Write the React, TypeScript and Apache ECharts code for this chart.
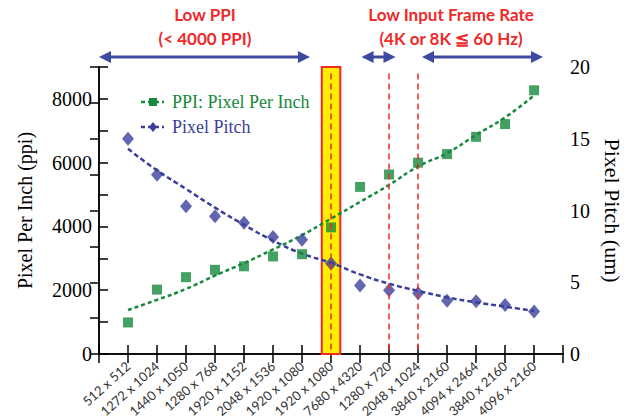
import React, { useEffect, useRef } from 'react';
import * as echarts from 'echarts';

const categories = ['512 x 512', '1272 x 1024', '1440 x 1050', '1280 x 768', '1920 x 1152', '2048 x 1536', '1920 x 1080', '1920 x 1080', '7680 x 4320', '1280 x 720', '2048 x 1024', '3840 x 2160', '4094 x 2464', '3840 x 2160', '4096 x 2160'];
const ppiValues = [990, 2020, 2410, 2640, 2750, 3060, 3130, 3970, 5240, 5630, 6000, 6270, 6810, 7210, 8270];
const pitchValues = [15.0, 12.5, 10.3, 9.6, 9.15, 8.15, 7.97, 6.3, 4.77, 4.45, 4.23, 3.71, 3.67, 3.42, 2.97];
const ppiTrend = [1380, 1700, 2040, 2460, 2850, 3280, 3730, 4245, 4770, 5300, 5880, 6300, 6870, 7420, 8110];
const pitchTrend = [14.3, 12.8, 11.5, 10.2, 9.0, 7.9, 7.0, 6.35, 5.55, 4.9, 4.4, 3.95, 3.6, 3.3, 3.0];
const highlightRange = [7.68, 8.32];
const redLines = [8, 10, 11];
const redLineTop = 8800;
const arrowSpans = [[0, 7.15], [8.9, 10.05], [10.95, 15.05]];

const GREEN = '#16893c';
const BLUE = '#3b3f9c';
const RED = '#ee2a2a';
const ARROW = '#3d4a9f';

const GRID = { left: 99, right: 60, top: 67, bottom: 57 };
const W = 631, H = 420;
const X_MAX = 16;
const xPx = (v: number) => GRID.left + (v * (W - GRID.left - GRID.right)) / X_MAX;

function arrow(x1: number, x2: number, y: number) {
  const hl = 12, hw = 6;
  return [
    { type: 'line', shape: { x1: x1 + hl - 2, y1: y, x2: x2 - hl + 2, y2: y }, style: { stroke: ARROW, lineWidth: 3 } },
    { type: 'polygon', shape: { points: [[x1, y], [x1 + hl, y - hw], [x1 + hl, y + hw]] }, style: { fill: ARROW } },
    { type: 'polygon', shape: { points: [[x2, y], [x2 - hl, y - hw], [x2 - hl, y + hw]] }, style: { fill: ARROW } },
  ];
}

export default function App() {
  const ref = useRef<HTMLDivElement>(null);
  useEffect(() => {
    if (!ref.current) return;
    const chart = echarts.init(ref.current, undefined, { renderer: 'svg' });
    const serif = 'Liberation Serif';
    const axisLineStyle = { color: '#000', width: 1.5 };
    const graphic: any[] = [];
    arrowSpans.forEach(([a, b]) => graphic.push(...arrow(xPx(a), xPx(b), 57)));
    const annoStyle = { fill: RED, fontFamily: 'Lato', fontWeight: 'bold', fontSize: 17, align: 'center', verticalAlign: 'middle' };
    graphic.push(
      { type: 'text', x: 205, y: 14, style: { ...annoStyle, text: 'Low PPI' } },
      { type: 'text', x: 205, y: 38, style: { ...annoStyle, text: '(< 4000 PPI)' } },
      { type: 'text', x: 451, y: 14, style: { ...annoStyle, text: 'Low Input Frame Rate' } },
      { type: 'text', x: 451, y: 38, style: { ...annoStyle, text: '(4K or 8K \u2266 60 Hz)' } },
    );
    // legend
    const ly1 = 102, ly2 = 127;
    graphic.push(
      { type: 'line', shape: { x1: 141, y1: ly1, x2: 164, y2: ly1 }, style: { stroke: GREEN, lineWidth: 2.5, lineDash: [4, 3] } },
      { type: 'rect', shape: { x: 149, y: ly1 - 4, width: 8, height: 8 }, style: { fill: GREEN } },
      { type: 'text', x: 172, y: ly1, style: { text: 'PPI: Pixel Per Inch', fill: GREEN, fontFamily: serif, fontSize: 18, verticalAlign: 'middle' } },
      { type: 'line', shape: { x1: 141, y1: ly2, x2: 164, y2: ly2 }, style: { stroke: BLUE, lineWidth: 2.5, lineDash: [4, 3] } },
      { type: 'polygon', shape: { points: [[153, ly2 - 5], [157, ly2], [153, ly2 + 5], [149, ly2]] }, style: { fill: BLUE } },
      { type: 'text', x: 172, y: ly2, style: { text: 'Pixel Pitch', fill: BLUE, fontFamily: serif, fontSize: 18, verticalAlign: 'middle' } },
    );

    chart.setOption({
      animation: false,
      grid: GRID,
      xAxis: [
        {
          type: 'value', min: 0, max: X_MAX, interval: 1, position: 'bottom',
          axisLine: { lineStyle: axisLineStyle },
          axisTick: { inside: true, length: 9, lineStyle: axisLineStyle },
          splitLine: { show: false },
          axisLabel: {
            rotate: 42, margin: 10, fontFamily: 'Lato', fontSize: 13, color: '#333',
            formatter: (v: number) => categories[v - 1] ?? '',
          },
        },
        {
          type: 'value', min: 0, max: X_MAX, interval: 1, position: 'top',
          axisLine: { lineStyle: axisLineStyle },
          axisTick: { inside: true, length: 9, lineStyle: axisLineStyle },
          splitLine: { show: false },
          axisLabel: { show: false },
        },
      ],
      yAxis: [
        {
          type: 'value', min: 0, max: 9000, interval: 1000, position: 'left',
          name: 'Pixel Per Inch (ppi)', nameLocation: 'middle', nameGap: 64,
          nameTextStyle: { fontFamily: serif, fontSize: 20, color: '#000' },
          axisLine: { show: true, lineStyle: axisLineStyle },
          axisTick: { inside: true, length: 9, lineStyle: axisLineStyle },
          splitLine: { show: false },
          axisLabel: {
            margin: 7, fontFamily: serif, fontSize: 20, color: '#000',
            formatter: (v: number) => (v % 2000 === 0 ? String(v) : ''),
          },
        },
        {
          type: 'value', min: 0, max: 20, interval: 2.5, position: 'right',
          name: 'Pixel Pitch (um)', nameLocation: 'middle', nameGap: 36, nameRotate: -90,
          nameTextStyle: { fontFamily: serif, fontSize: 22, color: '#000' },
          axisLine: { show: true, lineStyle: axisLineStyle },
          axisTick: { inside: true, length: 9, lineStyle: axisLineStyle },
          splitLine: { show: false },
          axisLabel: {
            margin: 7, fontFamily: serif, fontSize: 20, color: '#000',
            formatter: (v: number) => (v % 5 === 0 ? String(v) : ''),
          },
        },
      ],
      graphic,
      series: [
        {
          name: 'marks', type: 'line', data: [], z: 1,
          markArea: {
            silent: true,
            itemStyle: { color: '#ffee00', borderColor: RED, borderWidth: 2 },
            data: [[{ xAxis: highlightRange[0] }, { xAxis: highlightRange[1] }]],
          },
          markLine: {
            silent: true, symbol: 'none', label: { show: false },
            lineStyle: { color: RED, width: 1.5, type: [6, 4] },
            data: redLines.map((x) => [{ coord: [x, redLineTop] }, { coord: [x, 0] }]),
          },
        },
        {
          name: 'PPI trend', type: 'line', smooth: true, showSymbol: false, z: 3,
          data: ppiTrend.map((v, i) => [i + 1, v]),
          lineStyle: { color: GREEN, width: 2.5, type: [4, 3] },
        },
        {
          name: 'Pitch trend', type: 'line', smooth: true, showSymbol: false, yAxisIndex: 1, z: 3,
          data: pitchTrend.map((v, i) => [i + 1, v]),
          lineStyle: { color: BLUE, width: 2.5, type: [5, 3] },
        },
        {
          name: 'PPI: Pixel Per Inch', type: 'scatter', symbol: 'rect', symbolSize: 10, z: 4,
          data: ppiValues.map((v, i) => [i + 1, v]),
          itemStyle: { color: GREEN },
        },
        {
          name: 'Pixel Pitch', type: 'scatter', symbol: 'diamond', symbolSize: [12, 14], yAxisIndex: 1, z: 4,
          data: pitchValues.map((v, i) => [i + 1, v]),
          itemStyle: { color: BLUE },
        },
      ],
    });
    return () => chart.dispose();
  }, []);
  return <div ref={ref} style={{ position: 'fixed', left: 0, top: 0, width: W, height: H, background: '#fff' }} />;
}
